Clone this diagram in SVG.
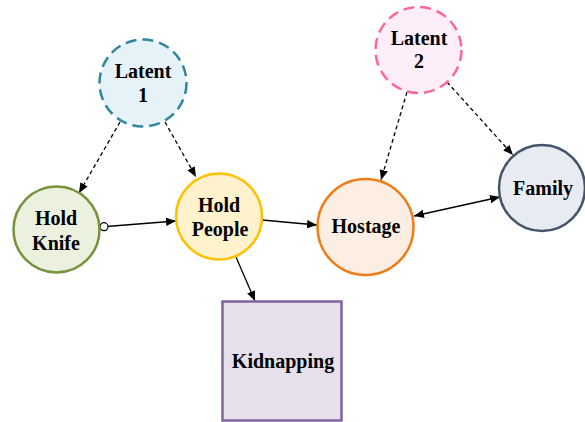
<svg xmlns="http://www.w3.org/2000/svg" width="585" height="422" viewBox="0 0 585 422">
<defs>
<style>
.t{font-family:'Liberation Serif','Times New Roman','DejaVu Serif',serif;font-weight:bold;font-size:20px;fill:#000;text-anchor:middle}
.n{stroke-width:2.5}
.e{stroke:#000;stroke-width:1.3;fill:none}
.d{stroke-dasharray:4 3}
</style>
<marker id="ah" viewBox="0 0 10 10" refX="10" refY="5" markerWidth="10" markerHeight="10" markerUnits="userSpaceOnUse" orient="auto-start-reverse">
<path d="M0,0.8 L10,5 L0,9.2 Z" fill="#000"/>
</marker>
<marker id="oc" viewBox="0 0 10 10" refX="1" refY="5" markerWidth="10" markerHeight="10" markerUnits="userSpaceOnUse" orient="auto">
<circle cx="5" cy="5" r="4" fill="#fff" stroke="#000" stroke-width="1.2"/>
</marker>
</defs>
<rect width="585" height="422" fill="#fff"/>
<g id="connectors">
<line class="e d" x1="120" y1="122" x2="79" y2="193" marker-end="url(#ah)"/>
<line class="e d" x1="165" y1="122" x2="196" y2="177" marker-end="url(#ah)"/>
<line class="e d" x1="407" y1="92" x2="381" y2="180" marker-end="url(#ah)"/>
<line class="e d" x1="447" y1="82" x2="513" y2="155" marker-end="url(#ah)"/>
<line class="e" x1="100" y1="227" x2="176" y2="221" marker-start="url(#oc)" marker-end="url(#ah)"/>
<line class="e" x1="262" y1="220" x2="317" y2="225" marker-end="url(#ah)"/>
<line class="e" x1="414" y1="216" x2="500" y2="197" marker-start="url(#ah)" marker-end="url(#ah)"/>
<line class="e" x1="236" y1="257" x2="255" y2="301" marker-end="url(#ah)"/>
</g>
<g id="latent1">
<circle class="n" cx="143" cy="83" r="43.5" fill="#e5f2f7" stroke="#31859c" stroke-dasharray="11 6"/>
<text class="t" font-family="Liberation Serif, serif" x="143" y="78">Latent</text>
<text class="t" font-family="Liberation Serif, serif" x="143" y="102">1</text>
</g>
<g id="latent2">
<circle class="n" cx="418.5" cy="50" r="43" fill="#fdeef9" stroke="#ff6699" stroke-dasharray="11 6"/>
<text class="t" font-family="Liberation Serif, serif" x="419" y="45">Latent</text>
<text class="t" font-family="Liberation Serif, serif" x="419" y="68">2</text>
</g>
<g id="holdknife">
<circle class="n" cx="56.5" cy="229.5" r="43" fill="#ebf1de" stroke="#77933c"/>
<text class="t" font-family="Liberation Serif, serif" x="56" y="225">Hold</text>
<text class="t" font-family="Liberation Serif, serif" x="56" y="250">Knife</text>
</g>
<g id="holdpeople">
<circle class="n" cx="219" cy="216.5" r="43" fill="#fff2cc" stroke="#ffc000"/>
<text class="t" font-family="Liberation Serif, serif" x="219" y="212">Hold</text>
<text class="t" font-family="Liberation Serif, serif" x="220" y="236">People</text>
</g>
<g id="hostage">
<circle class="n" cx="365.5" cy="227" r="48" fill="#fdeee3" stroke="#ee7d16"/>
<text class="t" font-family="Liberation Serif, serif" x="366" y="233">Hostage</text>
</g>
<g id="family">
<circle class="n" cx="542" cy="188" r="43" fill="#e8ebf1" stroke="#44546a"/>
<text class="t" font-family="Liberation Serif, serif" x="543" y="195">Family</text>
</g>
<g id="kidnapping">
<rect class="n" x="222.5" y="301.5" width="119" height="119" fill="#e5e0ec" stroke="#8064a2"/>
<text class="t" font-family="Liberation Serif, serif" x="283" y="368">Kidnapping</text>
</g>
</svg>
